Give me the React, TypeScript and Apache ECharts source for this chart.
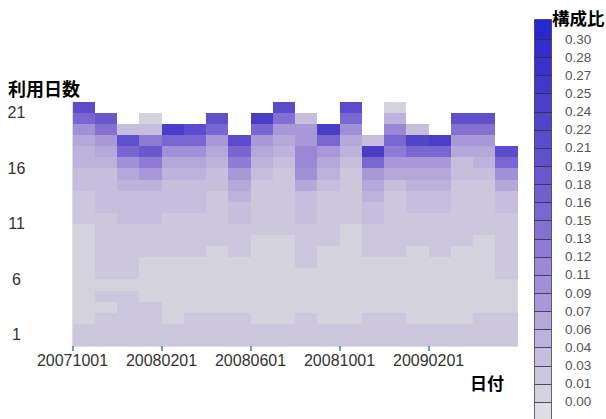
import React, { useEffect, useRef } from 'react';
import * as echarts from 'echarts';

// x categories: months (cell m spans [m, m+1]); tick labels show month + '01'
const months = ['200710', '200711', '200712', '200801', '200802', '200803', '200804', '200805', '200806', '200807',
  '200808', '200809', '200810', '200811', '200812', '200901', '200902', '200903', '200904', '200905'];
const monthTickIndexes = [0, 4, 8, 12, 16];
const dayTickLabels = [1, 6, 11, 16, 21];

// 構成比 per 利用日数 (index = day 0, 1, 2, ... from bottom)
const r200710 = [0.022, 0.022, 0.010, 0.010, 0.010, 0.010, 0.010, 0.010, 0.010, 0.010, 0.010, 0.022, 0.022, 0.022, 0.034, 0.040, 0.052, 0.052, 0.068, 0.097, 0.157, 0.217];
const r200711 = [0.022, 0.022, 0.022, 0.010, 0.022, 0.010, 0.022, 0.022, 0.022, 0.022, 0.022, 0.022, 0.034, 0.034, 0.034, 0.040, 0.052, 0.068, 0.082, 0.142, 0.187];
const r200712 = [0.022, 0.022, 0.022, 0.022, 0.022, 0.010, 0.022, 0.022, 0.022, 0.022, 0.022, 0.034, 0.034, 0.040, 0.052, 0.068, 0.097, 0.157, 0.202, 0.040];
const r200801 = [0.022, 0.022, 0.022, 0.022, 0.010, 0.010, 0.010, 0.010, 0.022, 0.022, 0.022, 0.034, 0.034, 0.040, 0.052, 0.082, 0.127, 0.187, 0.127, 0.040, 0.010];
const r200802 = [0.022, 0.022, 0.010, 0.010, 0.010, 0.010, 0.010, 0.010, 0.022, 0.022, 0.022, 0.022, 0.034, 0.034, 0.040, 0.052, 0.068, 0.097, 0.157, 0.247];
const r200803 = [0.022, 0.022, 0.022, 0.010, 0.010, 0.010, 0.010, 0.010, 0.022, 0.022, 0.022, 0.022, 0.034, 0.034, 0.040, 0.052, 0.068, 0.097, 0.157, 0.217];
const r200804 = [0.022, 0.022, 0.022, 0.010, 0.010, 0.010, 0.010, 0.010, 0.010, 0.022, 0.022, 0.022, 0.022, 0.022, 0.034, 0.040, 0.052, 0.068, 0.082, 0.157, 0.202];
const r200805 = [0.022, 0.022, 0.022, 0.010, 0.010, 0.010, 0.010, 0.010, 0.022, 0.022, 0.022, 0.034, 0.040, 0.052, 0.068, 0.082, 0.127, 0.157, 0.217];
const r200806 = [0.022, 0.022, 0.010, 0.010, 0.010, 0.010, 0.010, 0.010, 0.010, 0.010, 0.022, 0.022, 0.022, 0.022, 0.022, 0.040, 0.052, 0.068, 0.082, 0.157, 0.247];
const r200807 = [0.022, 0.022, 0.010, 0.010, 0.010, 0.010, 0.010, 0.010, 0.010, 0.010, 0.022, 0.022, 0.022, 0.022, 0.022, 0.022, 0.040, 0.052, 0.068, 0.082, 0.142, 0.217];
const r200808 = [0.022, 0.022, 0.022, 0.010, 0.010, 0.010, 0.010, 0.022, 0.022, 0.022, 0.022, 0.034, 0.034, 0.040, 0.068, 0.097, 0.112, 0.112, 0.082, 0.082, 0.040];
const r200809 = [0.022, 0.022, 0.010, 0.010, 0.010, 0.010, 0.010, 0.010, 0.010, 0.022, 0.022, 0.022, 0.022, 0.022, 0.040, 0.052, 0.068, 0.082, 0.157, 0.247];
const r200810 = [0.022, 0.022, 0.010, 0.010, 0.010, 0.010, 0.010, 0.010, 0.010, 0.010, 0.010, 0.022, 0.022, 0.022, 0.022, 0.022, 0.040, 0.052, 0.068, 0.097, 0.157, 0.217];
const r200811 = [0.022, 0.022, 0.022, 0.010, 0.010, 0.010, 0.010, 0.010, 0.022, 0.022, 0.022, 0.034, 0.034, 0.052, 0.068, 0.082, 0.157, 0.247, 0.040];
const r200812 = [0.022, 0.022, 0.022, 0.010, 0.010, 0.010, 0.010, 0.010, 0.022, 0.022, 0.022, 0.022, 0.022, 0.022, 0.040, 0.068, 0.082, 0.127, 0.157, 0.112, 0.052, 0.010];
const r200901 = [0.022, 0.022, 0.010, 0.010, 0.010, 0.010, 0.010, 0.010, 0.010, 0.022, 0.022, 0.022, 0.034, 0.040, 0.052, 0.068, 0.082, 0.157, 0.232, 0.040];
const r200902 = [0.022, 0.022, 0.010, 0.010, 0.010, 0.010, 0.010, 0.010, 0.022, 0.022, 0.022, 0.022, 0.034, 0.034, 0.052, 0.068, 0.082, 0.157, 0.247];
const r200903 = [0.022, 0.022, 0.010, 0.010, 0.010, 0.010, 0.010, 0.010, 0.010, 0.022, 0.022, 0.022, 0.022, 0.022, 0.022, 0.034, 0.040, 0.068, 0.082, 0.142, 0.202];
const r200904 = [0.022, 0.022, 0.022, 0.010, 0.010, 0.010, 0.010, 0.010, 0.010, 0.010, 0.022, 0.022, 0.022, 0.022, 0.022, 0.040, 0.052, 0.068, 0.082, 0.142, 0.202];
const r200905 = [0.022, 0.022, 0.022, 0.010, 0.010, 0.010, 0.022, 0.022, 0.022, 0.022, 0.022, 0.022, 0.040, 0.040, 0.068, 0.097, 0.157, 0.217];

const columns = [r200710, r200711, r200712, r200801, r200802, r200803, r200804, r200805, r200806, r200807,
  r200808, r200809, r200810, r200811, r200812, r200901, r200902, r200903, r200904, r200905];

// colour scale legend
const legendLabels = ['0.00', '0.01', '0.03', '0.04', '0.06', '0.07', '0.09', '0.11', '0.12', '0.13', '0.15',
  '0.16', '0.18', '0.19', '0.21', '0.22', '0.24', '0.25', '0.27', '0.28', '0.30'];
const legendStep = 0.015;
const legendMin = -0.015;
const legendMax = 0.3166;
const pieceColors = ['#dfdfe3', '#d4d2dc', '#ccc7dc', '#c6bedc', '#bdb2dc', '#b4a8da', '#a898d8', '#a090d8',
  '#9a88d4', '#8e7cd4', '#8470d0', '#7a66d0', '#7060ce', '#6a58cc', '#6050cc', '#5a4ccc', '#5044c8',
  '#4a3ec8', '#4238c8', '#3a32c8', '#322cca', '#2828cc'];

export default function App() {
  const ref = useRef<HTMLDivElement>(null);
  useEffect(() => {
    const chart = echarts.init(ref.current as HTMLDivElement, null, { renderer: 'svg' });
    const heatData: number[][] = [];
    columns.forEach((col, m) => col.forEach((v, d) => heatData.push([m, d, v])));
    const last = pieceColors.length - 1;
    const legendData = pieceColors.map((_, i) => {
      const lo = i === 0 ? legendMin : (i - 1) * legendStep;
      const hi = i === last ? legendMax : i * legendStep;
      return [lo, hi, (lo + hi) / 2];
    });
    const pieces = pieceColors.map((c, i) => {
      if (i === 0) return { lte: 0, color: c };
      if (i === last) return { gt: (i - 1) * legendStep, color: c };
      return { gt: (i - 1) * legendStep, lte: i * legendStep, color: c };
    });
    const titleStyle = (text: string, size: number) => ({
      text, fontSize: size, fontWeight: 'bold', fontFamily: 'Noto Sans CJK JP', fill: '#000',
      textAlign: 'left', align: 'left', textVerticalAlign: 'middle', verticalAlign: 'middle',
    });
    chart.setOption({
      animation: false,
      backgroundColor: '#fff',
      textStyle: { fontFamily: 'Liberation Sans' },
      grid: [
        { left: 72.5, top: 101.9, width: 445.1, height: 244.1, outerBoundsMode: 'none', containLabel: false },
        { left: 534, top: 19, width: 18, height: 401, outerBoundsMode: 'none', containLabel: false },
      ],
      xAxis: [
        {
          type: 'value', gridIndex: 0, min: 0, max: months.length,
          axisLine: { show: true, lineStyle: { color: '#dcdce6', width: 1 } },
          axisTick: { show: true, customValues: monthTickIndexes, length: 5, lineStyle: { color: '#3f78c4', width: 1.5 } },
          axisLabel: {
            customValues: monthTickIndexes, formatter: (v: number) => months[Math.round(v)] + '01',
            margin: 6, fontSize: 16, color: '#333',
          },
          splitLine: { show: false },
        },
        { type: 'value', gridIndex: 1, min: 0, max: 1, show: false },
      ],
      yAxis: [
        {
          type: 'value', gridIndex: 0, min: 0, max: 22,
          axisLine: { show: true, lineStyle: { color: '#dcdce6', width: 1 } },
          axisTick: { show: false },
          axisLabel: {
            customValues: dayTickLabels, formatter: (v: number) => String(v),
            align: 'center', margin: 56, fontSize: 16, color: '#333',
          },
          splitLine: { show: false },
        },
        {
          type: 'value', gridIndex: 1, min: legendMin, max: legendMax, position: 'right',
          axisLine: { show: false }, axisTick: { show: false }, splitLine: { show: false },
          axisLabel: {
            customValues: legendLabels.map((_, i) => i * legendStep),
            formatter: (v: number) => legendLabels[Math.round(v / legendStep)],
            margin: 13, fontSize: 13.5, color: '#555',
          },
        },
      ],
      visualMap: {
        type: 'piecewise', show: false, dimension: 2, seriesIndex: [0, 1], pieces,
      },
      series: [
        {
          type: 'custom', xAxisIndex: 0, yAxisIndex: 0, data: heatData,
          encode: { x: 0, y: 1 },
          renderItem: (_p: any, api: any) => {
            const x = api.value(0), y = api.value(1);
            const a = api.coord([x, y + 1]);
            const b = api.coord([x + 1, y]);
            const x0 = Math.round(a[0]), y0 = Math.round(a[1]);
            const x1 = Math.round(b[0]), y1 = Math.round(b[1]);
            return { type: 'rect', shape: { x: x0, y: y0, width: x1 - x0, height: y1 - y0 }, style: { fill: api.visual('color') } };
          },
        },
        {
          type: 'custom', xAxisIndex: 1, yAxisIndex: 1, data: legendData,
          encode: { y: [0, 1] },
          renderItem: (_p: any, api: any) => {
            const lo = api.value(0), hi = api.value(1);
            const a = api.coord([0, hi]);
            const b = api.coord([1, lo]);
            const y0 = Math.round(a[1]), y1 = Math.round(b[1]);
            return {
              type: 'rect',
              shape: { x: Math.round(a[0]) + 0.5, y: y0 + 0.5, width: Math.round(b[0]) - Math.round(a[0]) - 1, height: y1 - y0 },
              style: { fill: api.visual('color'), stroke: 'rgba(40,40,70,0.7)', lineWidth: 1 },
            };
          },
        },
      ],
      graphic: [
        { type: 'text', x: 8, y: 88, style: titleStyle('利用日数', 18) },
        { type: 'text', x: 552, y: 17, style: titleStyle('構成比', 17.5) },
        { type: 'text', x: 470, y: 382, style: titleStyle('日付', 17) },
      ],
    });
    return () => chart.dispose();
  }, []);
  return <div ref={ref} style={{ position: 'fixed', left: 0, top: 0, width: 606, height: 419, background: '#fff' }} />;
}
